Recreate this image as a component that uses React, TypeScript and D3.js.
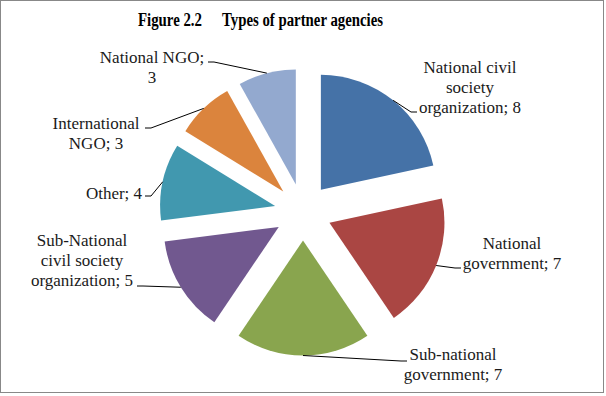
import { useEffect, useRef } from "react";
import * as d3 from "d3";

// Types of partner agencies (counts)
const categories = [
  "National civil society organization",
  "National government",
  "Sub-national government",
  "Sub-National civil society organization",
  "Other",
  "International NGO",
  "National NGO",
];
const values = [8, 7, 7, 5, 4, 3, 3];
const colors = ["#4572A7", "#AA4643", "#89A54E", "#71588F", "#4198AF", "#DB843D", "#93A9CF"];

// wrapped data labels "Category; value"
const labelLines = [
  ["National civil", "society", "organization; 8"],
  ["National", "government; 7"],
  ["Sub-national", "government; 7"],
  ["Sub-National", "civil society", "organization; 5"],
  ["Other; 4"],
  ["International", "NGO; 3"],
  ["National NGO;", "3"],
];

// label placement: text centre x, first line y, leader end point
const labelLayout = [
  { x: 470, y: 67, ex: 417, ey: 112 },
  { x: 512, y: 243, ex: 461, ey: 268 },
  { x: 453, y: 354, ex: 407, ey: 361 },
  { x: 82, y: 240, ex: 137, ey: 286 },
  { x: 114, y: 193, ex: 145, ey: 196 },
  { x: 96, y: 123, ex: 145, ey: 128 },
  { x: 152, y: 57, ex: 208, ey: 62 },
];

const W = 606;
const H = 396;
const CX = 303;
const CY = 212;
const R = 115;
const EXPLODE = 28.5;
const FONT = "Liberation Serif";

export default function App() {
  const ref = useRef<SVGSVGElement | null>(null);

  useEffect(() => {
    if (!ref.current) return;
    const svg = d3.select(ref.current);
    svg.selectAll("*").remove();

    svg
      .append("rect")
      .attr("x", 0.5)
      .attr("y", 0.5)
      .attr("width", 603)
      .attr("height", 392)
      .attr("fill", "#fff")
      .attr("stroke", "#888")
      .attr("stroke-width", 1);

    // title, two parts separated by a tab in the original
    const title = svg
      .append("g")
      .style("font-family", FONT)
      .style("font-weight", "bold")
      .style("font-size", "18px")
      .attr("fill", "#000");
    title
      .append("text")
      .attr("x", 138)
      .attr("y", 26)
      .attr("textLength", 64)
      .attr("lengthAdjust", "spacingAndGlyphs")
      .text("Figure 2.2");
    title
      .append("text")
      .attr("x", 222)
      .attr("y", 26)
      .attr("textLength", 161)
      .attr("lengthAdjust", "spacingAndGlyphs")
      .text("Types of partner agencies");

    const data = categories.map((c, i) => ({ category: c, value: values[i], i }));
    const pie = d3
      .pie<(typeof data)[number]>()
      .value((d) => d.value)
      .sort(null);
    const arcs = pie(data);
    const arc = d3.arc<d3.PieArcDatum<(typeof data)[number]>>().innerRadius(0).outerRadius(R);

    const g = svg.append("g").attr("transform", `translate(${CX},${CY})`);

    const dir = (a: d3.PieArcDatum<any>) => {
      const m = (a.startAngle + a.endAngle) / 2;
      return [Math.sin(m), -Math.cos(m)];
    };

    g.selectAll("path")
      .data(arcs)
      .join("path")
      .attr("d", arc)
      .attr("fill", (d) => colors[d.data.i])
      .attr("transform", (d) => {
        const [dx, dy] = dir(d);
        return `translate(${dx * EXPLODE},${dy * EXPLODE})`;
      });

    // leader lines from the middle of each exploded arc
    arcs.forEach((a) => {
      const [dx, dy] = dir(a);
      const sx = CX + dx * (R + EXPLODE);
      const sy = CY + dy * (R + EXPLODE);
      const L = labelLayout[a.data.i];
      const elbowX = L.ex > sx ? L.ex - 6 : L.ex + 6;
      svg
        .append("polyline")
        .attr("points", `${sx},${sy} ${elbowX},${L.ey} ${L.ex},${L.ey}`)
        .attr("fill", "none")
        .attr("stroke", "#000")
        .attr("stroke-width", 1);
    });

    // labels
    labelLines.forEach((lines, i) => {
      const L = labelLayout[i];
      const t = svg
        .append("text")
        .style("font-family", FONT)
        .style("font-size", "17px")
        .attr("fill", "#1a1a1a")
        .attr("text-anchor", "middle");
      lines.forEach((ln, k) => {
        t.append("tspan")
          .attr("x", L.x)
          .attr("y", L.y + k * 20)
          .attr("dy", "0.35em")
          .text(ln);
      });
    });
  }, []);

  return (
    <svg
      ref={ref}
      width={W}
      height={H}
      style={{ position: "absolute", left: 0, top: 0, display: "block" }}
    />
  );
}
